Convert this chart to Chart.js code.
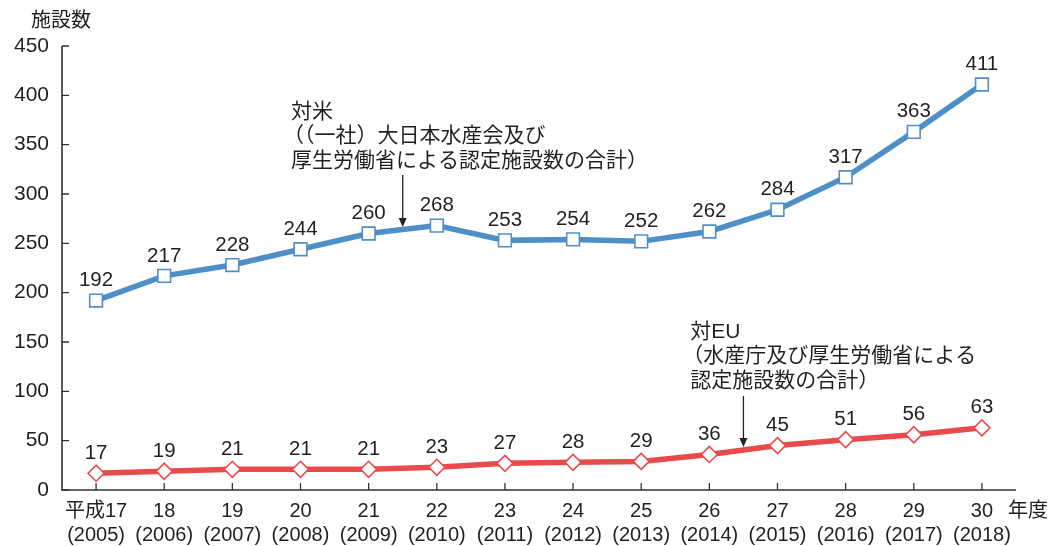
<!DOCTYPE html>
<html>
<head>
<meta charset="utf-8">
<script src="https://cdn.jsdelivr.net/npm/chart.js@4.4.0/dist/chart.umd.min.js"></script>
<style>
  html, body { margin: 0; padding: 0; background: #fff; }
  #wrap { width: 1050px; height: 546px; position: relative; }
</style>
</head>
<body>
<div id="wrap"><canvas id="chart" width="1050" height="546"></canvas></div>
<script>
// data
const eras = ["平成17", "18", "19", "20", "21", "22", "23", "24", "25", "26", "27", "28", "29", "30"];
const years = ["2005", "2006", "2007", "2008", "2009", "2010", "2011", "2012", "2013", "2014", "2015", "2016", "2017", "2018"];
const usValues = [192, 217, 228, 244, 260, 268, 253, 254, 252, 262, 284, 317, 363, 411];
const euValues = [17, 19, 21, 21, 21, 23, 27, 28, 29, 36, 45, 51, 56, 63];
const yTicks = [0, 50, 100, 150, 200, 250, 300, 350, 400, 450];

const FONT = "'Liberation Sans', 'Noto Sans CJK JP', sans-serif";
const TXT = "#231f20";
const BLUE = "#4f8fc8";
const RED = "#e94a4c";

// notes with arrows, placed in data coordinates (category index, value)
const notes = [
  { lines: ["対米", "（（一社）大日本水産会及び", "厚生労働省による認定施設数の合計）"], x: 2.86, y: 112, arrowX: 4.5, arrowFrom: 175, arrowTo: 227 },
  { lines: ["対EU", "（水産庁及び厚生労働省による", "認定施設数の合計）"], x: 8.72, y: 332, arrowX: 9.5, arrowFrom: 396, arrowTo: 447 }
];

const extras = {
  id: "extras",
  afterDraw(chart) {
    const ctx = chart.ctx;
    const xs = chart.scales.x, ys = chart.scales.y;
    const area = chart.chartArea;
    ctx.save();
    // axes
    ctx.strokeStyle = "#333";
    ctx.lineWidth = 1.6;
    ctx.beginPath();
    ctx.moveTo(area.left, ys.getPixelForValue(450));
    ctx.lineTo(area.left, area.bottom);
    ctx.lineTo(area.right, area.bottom);
    ctx.stroke();
    // inward ticks
    ctx.lineWidth = 1.3;
    ctx.beginPath();
    yTicks.forEach(v => {
      const py = ys.getPixelForValue(v);
      ctx.moveTo(area.left, py);
      ctx.lineTo(area.left + 7, py);
    });
    eras.forEach((e, i) => {
      const px = xs.getPixelForValue(i);
      ctx.moveTo(px, area.bottom);
      ctx.lineTo(px, area.bottom - 7);
    });
    ctx.stroke();

    ctx.fillStyle = TXT;
    ctx.font = "20px " + FONT;
    ctx.textBaseline = "middle";

    // axis titles
    ctx.textAlign = "center";
    ctx.fillText("施設数", 61, 21);
    ctx.textAlign = "left";
    ctx.fillText("年度", 1008, 511);

    // value labels
    ctx.font = "20.5px " + FONT;
    ctx.textAlign = "center";
    [[usValues, 0], [euValues, 1]].forEach(([vals, di]) => {
      const meta = chart.getDatasetMeta(di);
      meta.data.forEach((pt, i) => {
        ctx.fillText(String(vals[i]), pt.x, pt.y - 20);
      });
    });

    // notes
    ctx.textAlign = "left";
    ctx.font = "21px " + FONT;
    notes.forEach(n => {
      const lx = xs.getPixelForValue(n.x);
      n.lines.forEach((t, k) => ctx.fillText(t, lx - (t.startsWith("（") ? 8 : 0), n.y + k * 24.5));
      const ax = xs.getPixelForValue(n.arrowX);
      ctx.strokeStyle = "#222";
      ctx.lineWidth = 1.3;
      ctx.beginPath();
      ctx.moveTo(ax, n.arrowFrom);
      ctx.lineTo(ax, n.arrowTo - 6);
      ctx.stroke();
      ctx.fillStyle = "#222";
      ctx.beginPath();
      ctx.moveTo(ax - 4, n.arrowTo - 9);
      ctx.lineTo(ax + 4, n.arrowTo - 9);
      ctx.lineTo(ax, n.arrowTo);
      ctx.closePath();
      ctx.fill();
      ctx.fillStyle = TXT;
    });
    ctx.restore();
  }
};

new Chart(document.getElementById("chart"), {
  type: "line",
  data: {
    labels: eras.map((e, i) => [e, "(" + years[i] + ")"]),
    datasets: [
      {
        label: "対米",
        data: usValues,
        borderColor: BLUE,
        borderWidth: 5.5,
        pointStyle: "rect",
        pointRadius: 9,
        pointBorderWidth: 1.6,
        pointBackgroundColor: "#fff",
        pointBorderColor: BLUE,
        tension: 0
      },
      {
        label: "対EU",
        data: euValues,
        borderColor: RED,
        borderWidth: 5.5,
        pointStyle: "rectRot",
        pointRadius: 8,
        pointBorderWidth: 1.6,
        pointBackgroundColor: "#fff",
        pointBorderColor: RED,
        tension: 0
      }
    ]
  },
  plugins: [extras],
  options: {
    responsive: false,
    animation: false,
    layout: { padding: { left: 0, right: 34, top: 46, bottom: 0 } },
    plugins: { legend: { display: false }, tooltip: { enabled: false } },
    scales: {
      x: {
        offset: true,
        grid: { display: false, drawTicks: false },
        border: { display: false },
        ticks: {
          color: TXT,
          font: { family: FONT, size: 20 },
          padding: 9,
          maxRotation: 0,
          autoSkip: false
        },
        afterFit(s) { s.height = 56; }
      },
      y: {
        min: 0,
        max: 450,
        grid: { display: false, drawTicks: false },
        border: { display: false },
        afterBuildTicks(s) { s.ticks = yTicks.map(v => ({ value: v })); },
        ticks: {
          color: TXT,
          font: { family: FONT, size: 21 },
          padding: 13
        },
        afterFit(s) { s.width = 62; }
      }
    }
  }
});
</script>
</body>
</html>
